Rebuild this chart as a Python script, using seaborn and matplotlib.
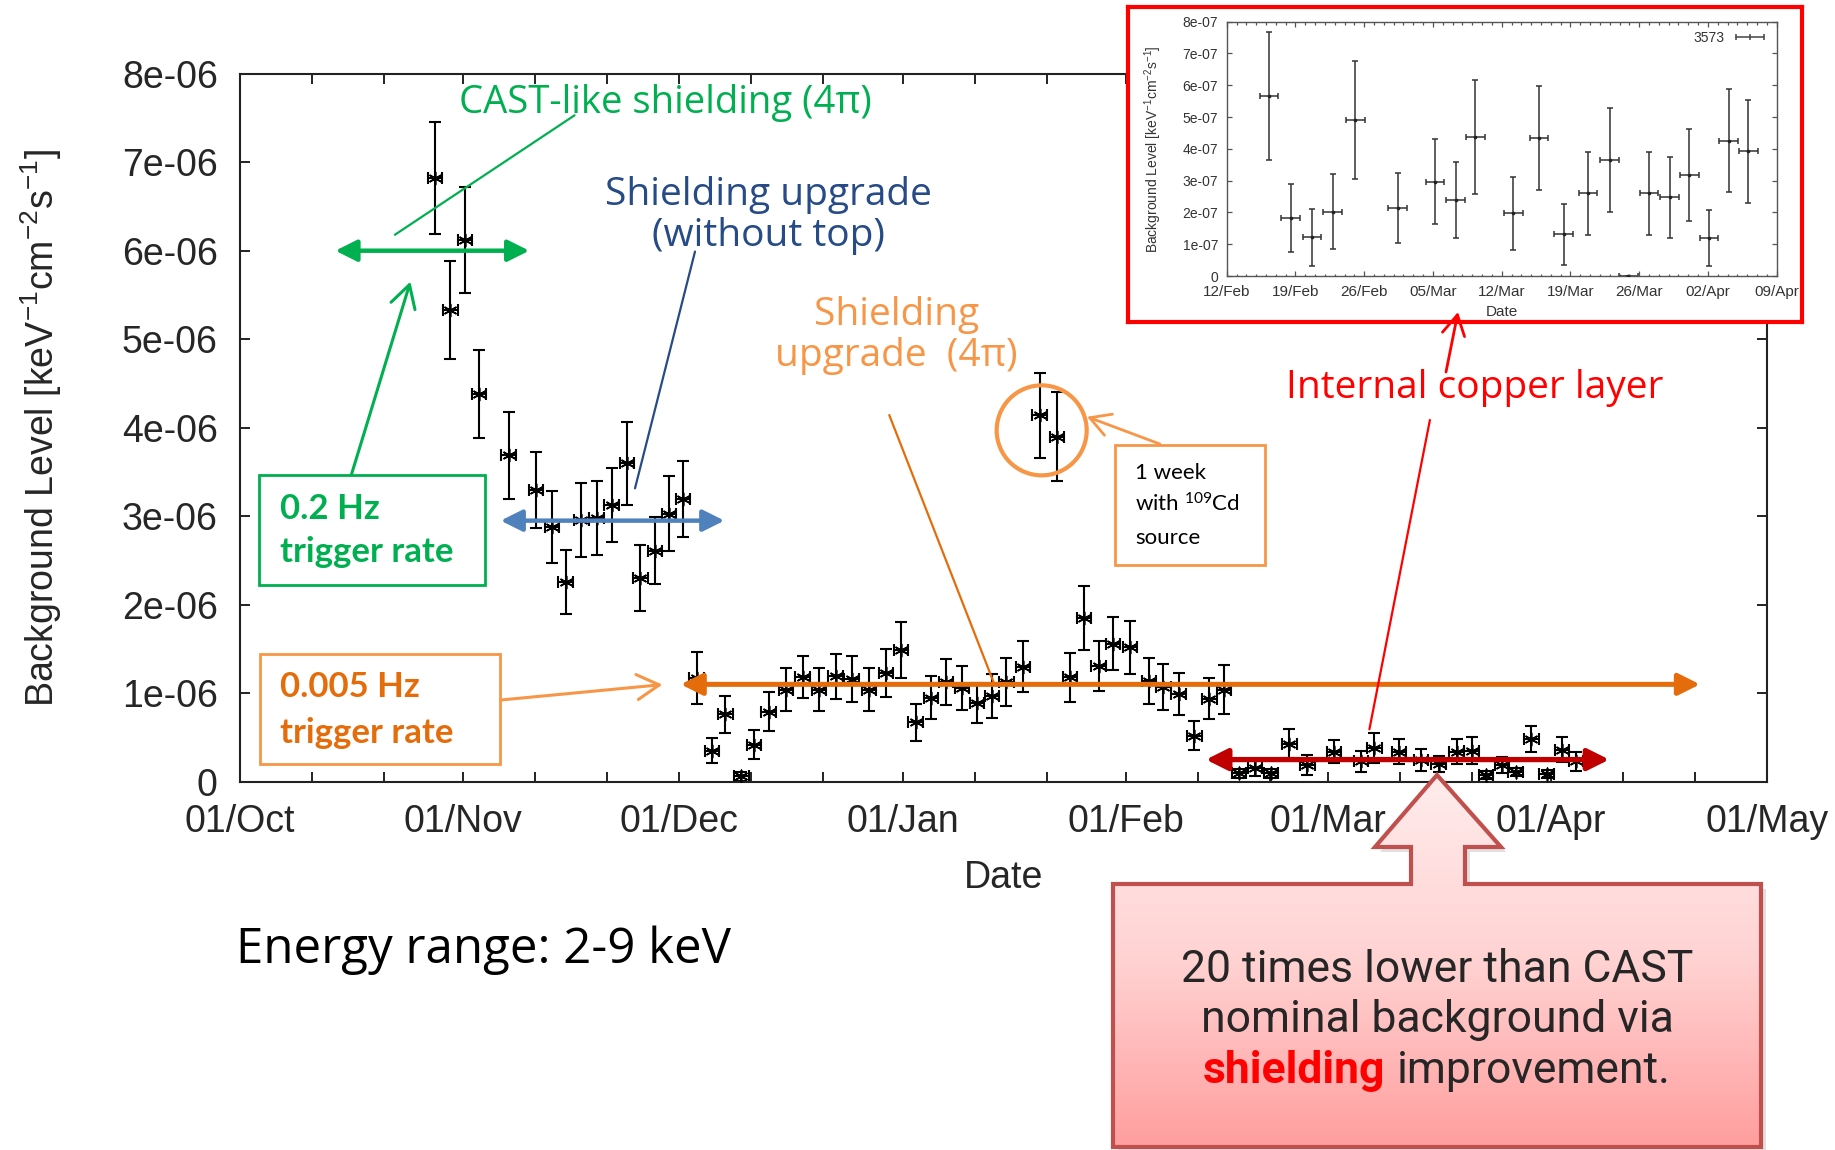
import numpy as np
import pandas as pd
import matplotlib
matplotlib.use("Agg")
import matplotlib.pyplot as plt
import matplotlib.dates as mdates
from matplotlib.ticker import FixedLocator, FixedFormatter
from matplotlib.patches import Rectangle, Ellipse, Polygon
from matplotlib.lines import Line2D
from matplotlib.colors import LinearSegmentedColormap
import seaborn as sns

# ---------------------------------------------------------------- data
# Main run: days since 01/Oct/2013, level and error in 1e-6 keV^-1 cm^-2 s^-1
run_day = [27.1, 29.2, 31.2, 33.2, 37.3, 41.1, 43.3, 45.2, 47.4, 49.5, 51.6, 53.7,
           55.6, 57.6, 59.6, 61.5,
           63.4, 65.5, 67.4, 69.6, 71.4, 73.4, 75.8, 78.1, 80.4, 82.7, 84.9, 87.3,
           89.7, 91.8, 93.8, 95.9, 98.0, 100.2, 102.3, 104.4, 106.4, 108.7,
           111.0, 113.4,
           115.2, 117.2, 119.2, 121.2, 123.6, 126.2, 128.2, 130.3, 132.5, 134.6, 136.6,
           138.7, 140.9, 143.1, 145.7, 148.2, 151.9, 155.6, 157.5, 160.9, 164.0,
           166.4, 168.9, 171.0, 173.0, 175.2, 177.1, 179.3, 181.4, 183.5, 185.5]
run_level = [6.82, 5.33, 6.12, 4.38, 3.69, 3.30, 2.88, 2.26, 2.96, 2.98, 3.13, 3.60,
             2.30, 2.61, 3.03, 3.19,
             1.17, 0.35, 0.76, 0.06, 0.42, 0.79, 1.04, 1.18, 1.04, 1.19, 1.16, 1.04,
             1.23, 1.49, 0.67, 0.95, 1.13, 1.055, 0.89, 0.97, 1.13, 1.30,
             4.14, 3.90,
             1.18, 1.85, 1.31, 1.56, 1.52, 1.14, 1.07, 0.99, 0.52, 0.94, 1.04,
             0.095, 0.16, 0.095, 0.43, 0.19, 0.34, 0.23, 0.38, 0.34, 0.245,
             0.20, 0.34, 0.35, 0.076, 0.19, 0.11, 0.48, 0.087, 0.36, 0.23]
run_err = [0.63, 0.55, 0.60, 0.50, 0.49, 0.43, 0.41, 0.36, 0.42, 0.42, 0.42, 0.47,
           0.37, 0.38, 0.42, 0.43,
           0.29, 0.14, 0.21, 0.05, 0.16, 0.22, 0.24, 0.235, 0.24, 0.25, 0.26, 0.24,
           0.27, 0.32, 0.21, 0.24, 0.26, 0.25, 0.23, 0.25, 0.27, 0.285,
           0.48, 0.50,
           0.275, 0.36, 0.28, 0.30, 0.30, 0.26, 0.26, 0.235, 0.165, 0.235, 0.275,
           0.05, 0.10, 0.05, 0.16, 0.11, 0.13, 0.12, 0.17, 0.14, 0.12,
           0.09, 0.14, 0.15, 0.05, 0.09, 0.05, 0.15, 0.05, 0.14, 0.11]
run_day_err = 1.0

# Run 3573 (inset): days since 12/Feb/2014, level and error in 1e-7 keV^-1 cm^-2 s^-1
r3573_day = [4.3, 6.5, 8.7, 10.8, 13.1, 17.4, 21.2, 23.3, 25.3, 29.2, 31.8,
             34.3, 36.8, 39.0, 40.9, 43.0, 45.1, 47.1, 49.1, 51.1, 53.1]
r3573_level = [5.67, 1.83, 1.22, 2.02, 4.91, 2.15, 2.97, 2.39, 4.38, 1.97, 4.35,
               1.32, 2.60, 3.65, 0.0, 2.60, 2.47, 3.18, 1.20, 4.25, 3.93]
r3573_err = [2.02, 1.07, 0.90, 1.18, 1.86, 1.10, 1.33, 1.20, 1.80, 1.14, 1.64,
             0.96, 1.31, 1.63, 0.0, 1.31, 1.27, 1.44, 0.87, 1.62, 1.62]
r3573_day_err = 0.95

main_start = "2013-10-01"
main_end = "2014-05-01"
main_xtick_dates = ["2013-10-01", "2013-11-01", "2013-12-01", "2014-01-01",
                    "2014-02-01", "2014-03-01", "2014-04-01", "2014-05-01"]
main_xtick_labels = ["01/Oct", "01/Nov", "01/Dec", "01/Jan", "01/Feb", "01/Mar",
                     "01/Apr", "01/May"]
main_ytick_values = [0, 1e-06, 2e-06, 3e-06, 4e-06, 5e-06, 6e-06, 7e-06, 8e-06]
main_ytick_labels = ["0", "1e-06", "2e-06", "3e-06", "4e-06", "5e-06", "6e-06",
                     "7e-06", "8e-06"]

inset_start = "2014-02-12"
inset_end = "2014-04-09"
inset_xtick_dates = ["2014-02-12", "2014-02-19", "2014-02-26", "2014-03-05",
                     "2014-03-12", "2014-03-19", "2014-03-26", "2014-04-02",
                     "2014-04-09"]
inset_xtick_labels = ["12/Feb", "19/Feb", "26/Feb", "05/Mar", "12/Mar", "19/Mar",
                      "26/Mar", "02/Apr", "09/Apr"]
inset_ytick_values = [0, 1e-07, 2e-07, 3e-07, 4e-07, 5e-07, 6e-07, 7e-07, 8e-07]
inset_ytick_labels = ["0", "1e-07", "2e-07", "3e-07", "4e-07", "5e-07", "6e-07",
                      "7e-07", "8e-07"]

# background levels marked by the horizontal arrows (1e-6 units)
cast_like_level = 6.0
no_top_level = 2.95
upgrade_level = 1.1
copper_level = 0.25

# ---------------------------------------------------------------- style
GREEN = "#00B050"
NAVY = "#264B86"
STEEL = "#4F81BD"
LIGHT_ORANGE = "#F79646"
DARK_ORANGE = "#E46C0A"
RED = "#FF0000"
DARK_RED = "#C00000"
CALLOUT_EDGE = "#C0504D"

sns.set_theme(style="ticks")
plt.rcParams["font.family"] = ["Liberation Sans", "DejaVu Sans"]
plt.rcParams["mathtext.default"] = "regular"

GOTHIC = ["Open Sans", "DejaVu Sans"]
HUMAN = ["Lato", "DejaVu Sans"]
NARROW = ["Liberation Sans Narrow", "Liberation Sans", "DejaVu Sans"]


def to_num(dates):
    return mdates.date2num(pd.to_datetime(dates))


main_origin = to_num([main_start])[0]
inset_origin = to_num([inset_start])[0]

main_df = pd.DataFrame({
    "date": main_origin + np.array(run_day),
    "level": np.array(run_level) * 1e-6,
    "err": np.array(run_err) * 1e-6,
})
inset_df = pd.DataFrame({
    "date": inset_origin + np.array(r3573_day),
    "level": np.array(r3573_level) * 1e-7,
    "err": np.array(r3573_err) * 1e-7,
})


def P(day, val):
    """Position in the main axes: days since 01/Oct, level in 1e-6 units."""
    return (main_origin + day, val * 1e-6)


fig = plt.figure(figsize=(18.35, 11.5), dpi=100)

# ---------------------------------------------------------------- main axes
ax = fig.add_axes([0.13079, 0.32026, 0.83215, 0.61565], zorder=1)
ax.errorbar(main_df["date"], main_df["level"], yerr=main_df["err"], xerr=run_day_err,
            fmt="none", ecolor="black", elinewidth=1.5, capsize=4.2, capthick=1.5,
            zorder=2)
sns.scatterplot(data=main_df, x="date", y="level", marker=(6, 2, 0), s=80,
                color="black", linewidth=1.2, ax=ax, zorder=3, legend=False)

ax.set_xlim(to_num([main_start])[0], to_num([main_end])[0])
ax.set_ylim(main_ytick_values[0], main_ytick_values[-1])
ax.xaxis.set_major_locator(FixedLocator(to_num(main_xtick_dates)))
ax.xaxis.set_major_formatter(FixedFormatter(main_xtick_labels))
ax.xaxis.set_minor_locator(mdates.DayLocator(bymonthday=[11, 21]))
ax.yaxis.set_major_locator(FixedLocator(main_ytick_values))
ax.yaxis.set_major_formatter(FixedFormatter(main_ytick_labels))
ax.tick_params(which="both", direction="in", top=True, right=True, width=1.4,
               color="#222222")
ax.tick_params(which="major", length=7.5, labelsize=27, pad=16)
ax.tick_params(which="minor", length=7)
for sp in ax.spines.values():
    sp.set_linewidth(1.5)
    sp.set_color("#222222")

ax.set_xlabel("Date", fontsize=27)
ax.xaxis.set_label_coords(0.5003, -0.136)
ax.xaxis.label.set_va("center")
ax.set_ylabel("Background Level [keV$^{-1}$cm$^{-2}$s$^{-1}$]", fontsize=27)
ax.yaxis.set_label_coords(-0.1303, 0.5)
ax.yaxis.label.set_va("center")


def level_arrow(d0, d1, level, color, lw=3.2):
    ax.annotate("", xy=P(d1, level), xytext=P(d0, level),
                arrowprops=dict(arrowstyle="<|-|>,head_length=1.0,head_width=0.5",
                                mutation_scale=13, color=color, lw=lw,
                                shrinkA=0, shrinkB=0), zorder=5)


def leader(p0, p1, color, lw=1.6, style="-", scale=16):
    ax.annotate("", xy=p1, xytext=p0,
                arrowprops=dict(arrowstyle=style, mutation_scale=scale, color=color,
                                lw=lw, shrinkA=0, shrinkB=0), zorder=5)


# CAST-like shielding
ax.text(*P(59.0, 7.67), "CAST-like shielding (4π)", color=GREEN, fontsize=27.5,
        family=GOTHIC, ha="center", va="center")
leader(P(46.45, 7.53), P(21.5, 6.18), GREEN)
level_arrow(13.24, 40.16, cast_like_level, GREEN)
ax.add_patch(Rectangle(P(2.68, 2.223), 31.39, 1.243e-6, facecolor="white",
                       edgecolor=GREEN, lw=2, zorder=4))
ax.text(*P(5.55, 2.969), "0.2 Hz", color=GREEN, fontsize=25, family=HUMAN,
        fontweight="bold", ha="left", va="baseline", zorder=6)
ax.text(*P(5.55, 2.483), "trigger rate", color=GREEN, fontsize=25, family=HUMAN,
        fontweight="bold", ha="left", va="baseline", zorder=6)
leader(P(15.47, 3.47), P(23.66, 5.65), GREEN, lw=2.2,
       style="->,head_length=0.8,head_width=0.45", scale=20)

# Shielding upgrade without top
ax.text(*P(73.4, 6.40), "Shielding upgrade\n(without top)", color=NAVY, fontsize=28,
        family=GOTHIC, ha="center", va="center", linespacing=1.12)
leader(P(63.17, 5.99), P(54.84, 3.315), NAVY)
level_arrow(36.19, 67.25, no_top_level, STEEL)

# Shielding upgrade 4pi
ax.text(*P(91.1, 5.04), "Shielding\nupgrade  (4π)", color=LIGHT_ORANGE, fontsize=28,
        family=GOTHIC, ha="center", va="center", linespacing=1.1)
leader(P(90.14, 4.143), P(104.6, 1.13), DARK_ORANGE)
level_arrow(61.18, 202.7, upgrade_level, DARK_ORANGE, lw=3.6)
ax.add_patch(Rectangle(P(2.73, 0.2045), 33.33, 1.2415e-6, facecolor="white",
                       edgecolor=LIGHT_ORANGE, lw=2, zorder=4))
ax.text(*P(5.55, 0.957), "0.005 Hz", color=DARK_ORANGE, fontsize=25, family=HUMAN,
        fontweight="bold", ha="left", va="baseline", zorder=6)
ax.text(*P(5.55, 0.437), "trigger rate", color=DARK_ORANGE, fontsize=25,
        family=HUMAN, fontweight="bold", ha="left", va="baseline", zorder=6)
leader(P(36.2, 0.923), P(58.64, 1.097), LIGHT_ORANGE, lw=2.2,
       style="->,head_length=0.8,head_width=0.45", scale=20)

# Calibration source week
ax.add_patch(Ellipse(P(111.3, 3.97), 12.5, 1.017e-6, fill=False,
                     edgecolor=LIGHT_ORANGE, lw=3, zorder=5))
ax.add_patch(Rectangle(P(121.48, 2.449), 20.82, 1.356e-6, facecolor="white",
                       edgecolor=LIGHT_ORANGE, lw=2, zorder=4))
for val, line in zip([3.417, 3.051, 2.686], ["1 week", "with $^{109}$Cd", "source"]):
    ax.text(*P(124.26, val), line, color="black", fontsize=16, family=HUMAN,
            ha="left", va="baseline", zorder=6)
leader(P(127.7, 3.816), P(117.6, 4.124), LIGHT_ORANGE, lw=2,
       style="->,head_length=0.8,head_width=0.45", scale=18)

# Internal copper layer
ax.text(*P(171.4, 4.443), "Internal copper layer", color=RED, fontsize=28,
        family=GOTHIC, ha="center", va="center")
leader(P(165.2, 4.087), P(156.8, 0.592), RED)
level_arrow(134.1, 190.1, copper_level, DARK_RED, lw=3.8)

# ---------------------------------------------------------------- inset
frame = fig.add_axes([1128 / 1835, 1 - 322 / 1150, 674 / 1835, 315 / 1150], zorder=2)
frame.set_facecolor("white")
frame.set_xticks([])
frame.set_yticks([])
for sp in frame.spines.values():
    sp.set_color(RED)
    sp.set_linewidth(3)

axi = fig.add_axes([0.66850, 0.76, 0.29973, 0.22113], zorder=3)
axi.errorbar(inset_df["date"], inset_df["level"], yerr=inset_df["err"],
             xerr=r3573_day_err, fmt="none", ecolor="#333333", elinewidth=1.1,
             capsize=2.4, capthick=1.1, zorder=2)
sns.scatterplot(data=inset_df, x="date", y="level", marker="o", s=7, color="#222222",
                linewidth=0, ax=axi, zorder=3, legend=False)
axi.set_xlim(to_num([inset_start])[0], to_num([inset_end])[0])
axi.set_ylim(inset_ytick_values[0], inset_ytick_values[-1])
axi.xaxis.set_major_locator(FixedLocator(to_num(inset_xtick_dates)))
axi.xaxis.set_major_formatter(FixedFormatter(inset_xtick_labels))
axi.xaxis.set_minor_locator(mdates.DayLocator(interval=1))
axi.yaxis.set_major_locator(FixedLocator(inset_ytick_values))
axi.yaxis.set_major_formatter(FixedFormatter(inset_ytick_labels))
axi.tick_params(which="both", direction="in", top=True, right=True, width=0.9,
                color="#555555")
axi.tick_params(which="major", length=3.6)
axi.tick_params(which="minor", length=1.8)
axi.tick_params(axis="x", which="major", labelsize=11, pad=6.5, labelcolor="#333333")
axi.tick_params(axis="y", which="major", labelsize=10, pad=6, labelcolor="#333333")
for lab in axi.get_xticklabels():
    lab.set_family(NARROW)
for sp in axi.spines.values():
    sp.set_linewidth(1.0)
    sp.set_color("#555555")
axi.set_xlabel("Date", fontsize=11, family=NARROW, color="#333333")
axi.xaxis.set_label_coords(0.5, -0.14)
axi.xaxis.label.set_va("center")
axi.set_ylabel("Background Level [keV$^{-1}$cm$^{-2}$s$^{-1}$]", fontsize=10,
               color="#333333")
axi.yaxis.set_label_coords(-0.134, 0.5)
axi.yaxis.label.set_va("center")
axi.legend(handles=[Line2D([], [], color="#444444", lw=1.1, marker="|",
                           markersize=5, markeredgewidth=1.1, label="3573")],
           loc="upper right", frameon=False, markerfirst=False, numpoints=3,
           handlelength=2.6, fontsize=10, borderaxespad=0.25, handletextpad=0.5,
           labelcolor="#333333")

# ---------------------------------------------------------------- overlay (pixel space)
ov = fig.add_axes([0, 0, 1, 1], zorder=10)
ov.set_xlim(0, 1835)
ov.set_ylim(1150, 0)
ov.axis("off")

ov.annotate("", xy=(1458, 312), xytext=(1446, 372),
            arrowprops=dict(arrowstyle="->,head_length=0.8,head_width=0.45",
                            mutation_scale=18, color=RED, lw=2, shrinkA=0, shrinkB=0))

ov.text(236, 950, "Energy range: 2-9 keV", fontsize=35.5, family=GOTHIC,
        color="black", ha="left", va="center")

callout = [(1437, 775), (1501, 847), (1465, 847), (1465, 884), (1761, 884),
           (1761, 1147), (1113, 1147), (1113, 884), (1411, 884), (1411, 847),
           (1375, 847)]
shadow = Polygon([(x + 5, y + 5) for x, y in callout], closed=True,
                 facecolor="black", alpha=0.12, edgecolor="none")
ov.add_patch(shadow)
body = Polygon(callout, closed=True, facecolor="none", edgecolor=CALLOUT_EDGE,
               lw=3, joinstyle="miter", zorder=3)
fill_clip = Polygon(callout, closed=True, facecolor="none", edgecolor="none")
ov.add_patch(fill_clip)
pink = LinearSegmentedColormap.from_list("pink", ["#FFECEC", "#FFD2D2", "#FF9E9E"])
grad = ov.imshow(np.linspace(0, 1, 256).reshape(-1, 1), cmap=pink, aspect="auto",
                 extent=(1113, 1761, 1147, 775), origin="upper", zorder=2,
                 interpolation="bilinear")
grad.set_clip_path(fill_clip)
ov.add_patch(body)
ov.set_xlim(0, 1835)
ov.set_ylim(1150, 0)

CALL_FONT = ["Roboto", "DejaVu Sans"]
ov.text(1437, 982, "20 times lower than CAST", fontsize=32, family=CALL_FONT,
        ha="center", va="baseline", zorder=4)
ov.text(1437, 1032, "nominal background via", fontsize=32, family=CALL_FONT,
        ha="center", va="baseline", zorder=4)
t_a = ov.text(0, 1083, "shielding", fontsize=32, family=CALL_FONT, color=RED,
              fontweight="bold", ha="left", va="baseline", zorder=4)
t_b = ov.text(0, 1083, "improvement.", fontsize=32, family=CALL_FONT,
              ha="left", va="baseline", zorder=4)
fig.canvas.draw()
w_a = t_a.get_window_extent().width
w_b = t_b.get_window_extent().width
gap = 12
x0 = 1437 - (w_a + gap + w_b) / 2
t_a.set_x(x0)
t_b.set_x(x0 + w_a + gap)

fig.savefig("out.png", dpi=100)
